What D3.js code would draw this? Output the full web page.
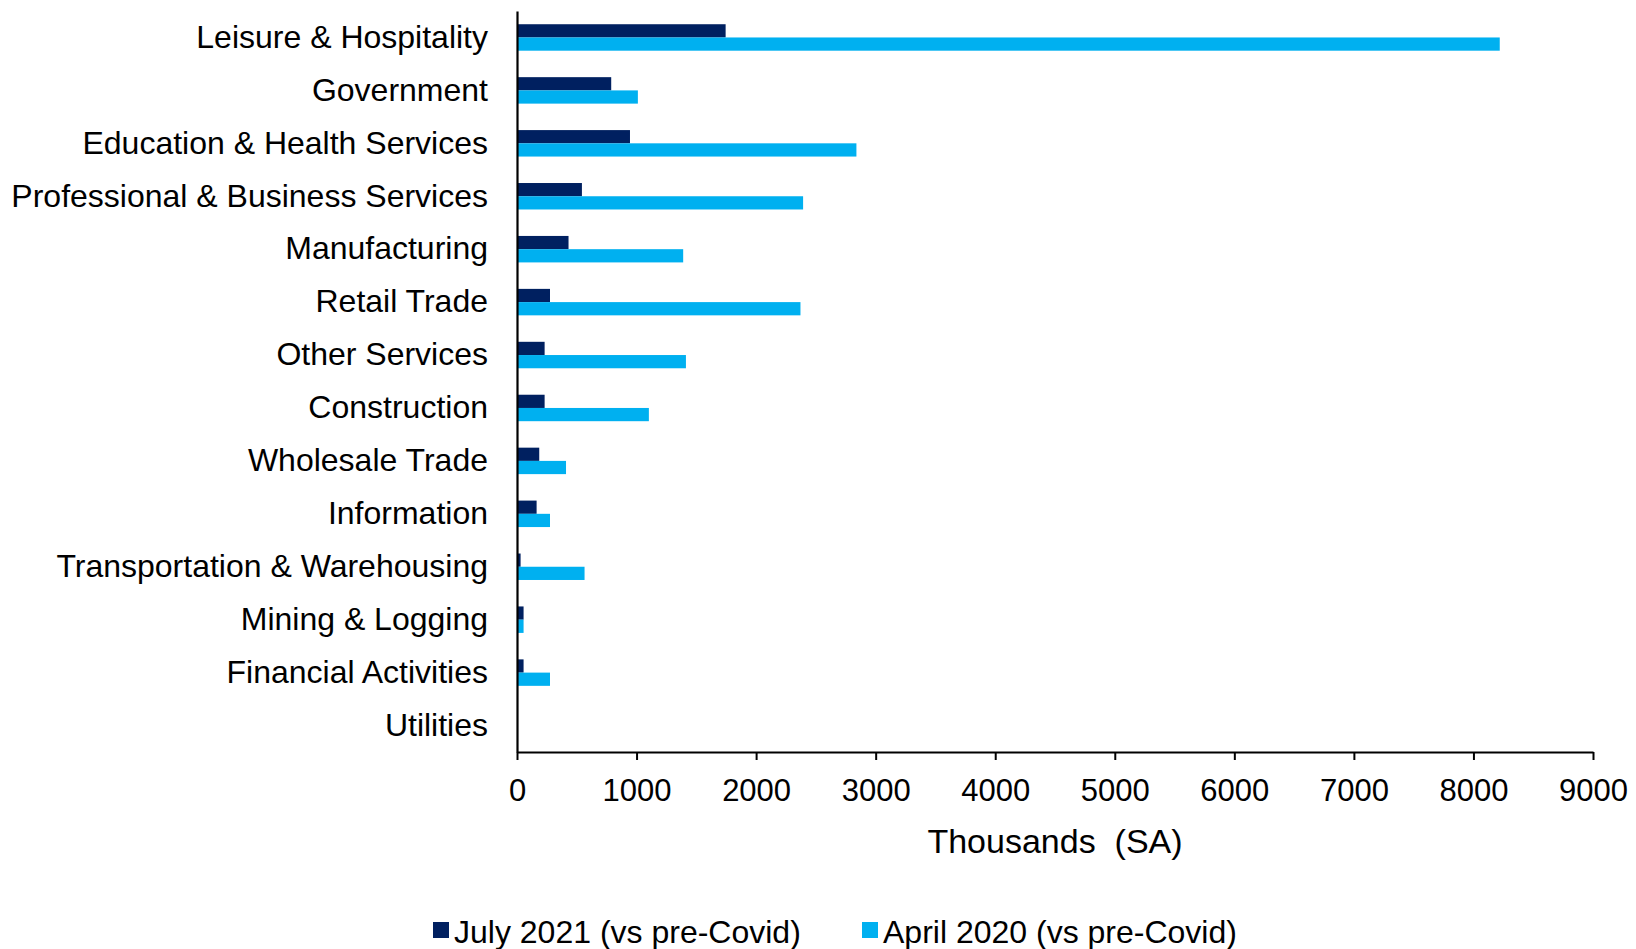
<!DOCTYPE html>
<html>
<head>
<meta charset="utf-8">
<script src="https://cdn.jsdelivr.net/npm/d3@7"></script>
<style>
  html, body { margin: 0; padding: 0; background: #ffffff; }
  svg { display: block; font-family: "Liberation Sans", Arial, sans-serif; }
</style>
</head>
<body>
<svg id="chart" width="1636" height="949"></svg>
<script>
// Employment shortfall by sector, thousands (seasonally adjusted)
const categories = [
  "Leisure & Hospitality",
  "Government",
  "Education & Health Services",
  "Professional & Business Services",
  "Manufacturing",
  "Retail Trade",
  "Other Services",
  "Construction",
  "Wholesale Trade",
  "Information",
  "Transportation & Warehousing",
  "Mining & Logging",
  "Financial Activities",
  "Utilities"
];
const july2021 = [1745, 788, 945, 543, 431, 276, 231, 231, 186, 164, 30, 55, 55, 4];
const april2020 = [8220, 1011, 2839, 2393, 1390, 2371, 1413, 1103, 410, 276, 565, 55, 276, 3];
const seriesNames = ["July 2021 (vs pre-Covid)", "April 2020 (vs pre-Covid)"];
const seriesColors = ["#002060", "#00B0F0"];
const xTicks = [0, 1000, 2000, 3000, 4000, 5000, 6000, 7000, 8000, 9000];
const xTitle = "Thousands\u00A0\u00A0(SA)";

const svg = d3.select("#chart");
const plotLeft = 517, plotRight = 1593, plotTop = 11, plotBottom = 752;

const x = d3.scaleLinear().domain([0, 9000]).range([plotLeft, plotRight]);
const y = d3.scaleBand().domain(categories).range([plotTop, plotBottom])
  .paddingInner(0.5).paddingOuter(0.25);
const sub = d3.scaleBand().domain([0, 1]).range([0, y.bandwidth()]);

const rows = categories.map((c, i) => ({ c, v: [july2021[i], april2020[i]] }));

// bars
const g = svg.append("g");
rows.forEach(r => {
  r.v.forEach((v, s) => {
    g.append("rect")
      .attr("x", x(0))
      .attr("y", y(r.c) + sub(s))
      .attr("width", Math.max(0, x(v) - x(0)))
      .attr("height", sub.bandwidth())
      .attr("fill", seriesColors[s]);
  });
});

// x axis
const xAxis = svg.append("g")
  .attr("transform", `translate(0,${plotBottom})`)
  .call(d3.axisBottom(x).tickValues(xTicks).tickFormat(d3.format("d"))
    .tickSize(8).tickSizeOuter(0).tickPadding(19));
xAxis.select(".domain").attr("stroke", "#000").attr("stroke-width", 2.2);
xAxis.selectAll(".tick line").attr("stroke", "#000").attr("stroke-width", 2);
xAxis.selectAll(".tick text")
  .attr("font-size", 31).attr("fill", "#000")
  .attr("font-family", "Liberation Sans, Arial, sans-serif");

// y axis
const yAxis = svg.append("g")
  .attr("transform", `translate(${plotLeft},0)`)
  .call(d3.axisLeft(y).tickSize(0).tickPadding(29));
yAxis.select(".domain").attr("stroke", "#000").attr("stroke-width", 2.2);
yAxis.selectAll(".tick text")
  .attr("font-size", 32).attr("fill", "#000")
  .attr("font-family", "Liberation Sans, Arial, sans-serif");

// axis title
svg.append("text")
  .attr("x", (plotLeft + plotRight) / 2)
  .attr("y", 853)
  .attr("text-anchor", "middle")
  .attr("font-size", 34)
  .attr("fill", "#000")
  .text(xTitle);

// legend
const legendX = [433, 862];
seriesNames.forEach((name, i) => {
  svg.append("rect")
    .attr("x", legendX[i]).attr("y", 922)
    .attr("width", 16).attr("height", 16)
    .attr("fill", seriesColors[i]);
  svg.append("text")
    .attr("x", legendX[i] + 21).attr("y", 943)
    .attr("font-size", 32).attr("fill", "#000")
    .text(name);
});
</script>
</body>
</html>
